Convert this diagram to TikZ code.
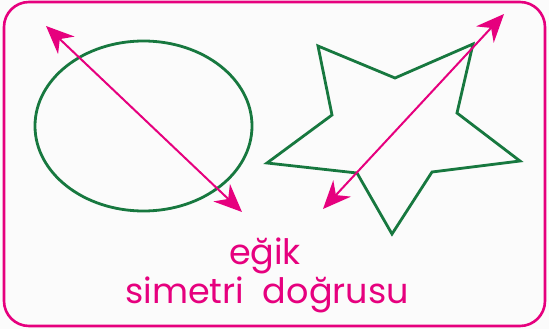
\documentclass[tikz,border=0pt]{standalone}
\usepackage{fontspec}
\setmainfont{Poppins}
\usetikzlibrary{arrows.meta}
\definecolor{pembe}{HTML}{E6007E}
\definecolor{yesil}{HTML}{17783F}
\definecolor{zemin}{HTML}{FBFBFB}
\begin{document}
\begin{tikzpicture}[x=1pt,y=-1pt,
    ok/.style={pembe, line width=2pt,
      {Stealth[length=28pt,width=24pt,inset=9pt]}-{Stealth[length=28pt,width=24pt,inset=9pt]}},
    sekil/.style={yesil, line width=2.8pt, line join=miter},
    yazi/.style={pembe, anchor=base, font=\fontsize{35}{40}\selectfont}]
    \useasboundingbox (0,0) rectangle (549,329);
    \fill[zemin] (0,0) rectangle (549,329);
    \draw[pembe, line width=2.6pt, rounded corners=25pt] (4,2) rectangle (545,326);
    % elips
    \draw[sekil] (143.5,126) ellipse [x radius=108.5, y radius=85];
    \coordinate (e1) at (46,26);
    \coordinate (e2) at (242,212);
    \draw[ok] (e1) -- (e2);
    % yildiz
    \draw[sekil] (318,46) -- (395,78) -- (473,44) -- (457,113) -- (520,161)
        -- (432,172) -- (392,234) -- (357,173) -- (267,163) -- (332,115) -- cycle;
    \coordinate (y1) at (504,14);
    \coordinate (y2) at (323,209);
    \draw[ok] (y1) -- (y2);
    % yazilar
    \node[yazi] (egik) at (265,264) {eğik};
    \node[yazi] (dogru) at (267,303) {simetri\ \ doğrusu};
\end{tikzpicture}
\end{document}
